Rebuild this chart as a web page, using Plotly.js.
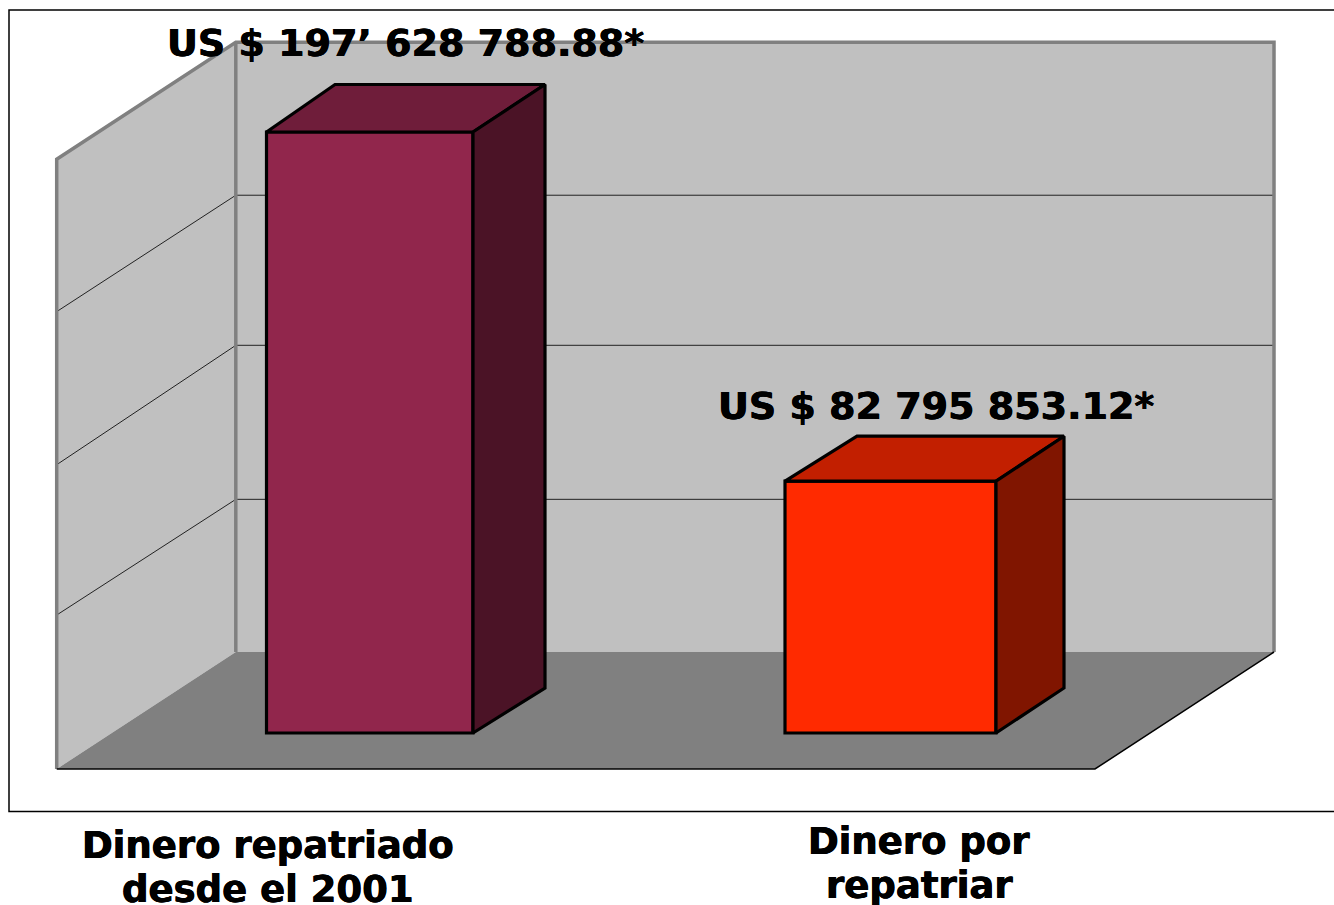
<!DOCTYPE html>
<html>
<head>
<meta charset="utf-8">
<script src="https://cdn.plot.ly/plotly-3.0.1.min.js"></script>
<style>html,body{margin:0;padding:0;background:#fff}#chart{width:1334px;height:905px}</style>
</head>
<body>
<div id="chart"></div>
<script>
// ---- data ----
const categoryLines = [["Dinero repatriado", "desde el 2001"], ["Dinero por", "repatriar"]];
const values = [197628788.88, 82795853.12];
const valueLabels = ["US $ 197’ 628 788.88*", "US $ 82 795 853.12*"];
const axisTicks = [50200000, 100850000, 150200000];
const axisMax = 200500000;

// ---- colours ----
const frontColors = ["#91264c", "#ff2a00"];
const topColors = ["#6f1d3a", "#c21f00"];
const sideColors = ["#4b1326", "#801500"];

// ---- geometry of the oblique projection (pixels) ----
const W = 1334, H = 905, baseline = 733, k = 601 / values[0];
const toVal = p => (baseline - p) / k;          // pixel row -> axis value
const barCenters = [369.75, 890.5], barWidths = [206.5, 211];
const depthX = [72, 68], backLeftX = [68.5, 72];
const topRise = [47.5, 45], baseRise = [45, 45];
const wall = {x0: 56.7, x1: 235.8, x2: 1274, x3: 1095, front: 769, back: 652};
const wallDY = wall.front - wall.back;
const gridDrop = [115.7, 119.4, 116.4];
const edge = 3.2;

const traces = [{
  type: "bar", x: barCenters, y: values, width: barWidths,
  marker: {color: frontColors, line: {color: "#000", width: edge}},
  hoverinfo: "skip", showlegend: false
}];
values.forEach((v, i) => {
  const l = barCenters[i] - barWidths[i] / 2, r = barCenters[i] + barWidths[i] / 2;
  const dx = depthX[i], dt = topRise[i] / k, db = baseRise[i] / k;
  traces.push({
    type: "scatter", mode: "lines", fill: "toself", fillcolor: topColors[i],
    x: [l, l + backLeftX[i], r + dx, r, l], y: [v, v + dt, v + dt, v, v],
    line: {color: "#000", width: edge}, hoverinfo: "skip", showlegend: false
  });
  traces.push({
    type: "scatter", mode: "lines", fill: "toself", fillcolor: sideColors[i],
    x: [r, r + dx, r + dx, r, r], y: [0, db, v + dt, v, 0],
    line: {color: "#000", width: edge}, hoverinfo: "skip", showlegend: false
  });
});

const poly = pts => "M" + pts.map(p => p[0] + "," + toVal(p[1])).join("L");
const backRow = v => wall.back - v * k;
const topBack = backRow(axisMax), topFront = topBack + wallDY;
const shapes = [
  // left wall, back wall, floor
  {type: "path", path: poly([[wall.x0, wall.front], [wall.x1, wall.back], [wall.x1, topBack], [wall.x0, topFront]]) + "Z", fillcolor: "#c0c0c0", line: {width: 0}, layer: "below"},
  {type: "path", path: poly([[wall.x1, wall.back], [wall.x2, wall.back], [wall.x2, topBack], [wall.x1, topBack]]) + "Z", fillcolor: "#c0c0c0", line: {width: 0}, layer: "below"},
  {type: "path", path: poly([[wall.x0, wall.front], [wall.x1, wall.back], [wall.x2, wall.back], [wall.x3, wall.front]]) + "Z", fillcolor: "#808080", line: {width: 0}, layer: "below"}
];
axisTicks.forEach((t, i) => {
  const r = backRow(t);
  shapes.push({type: "path", path: poly([[wall.x0, r + gridDrop[i]], [wall.x1, r], [wall.x2, r]]), line: {color: "#222", width: 1}, layer: "below"});
});
shapes.push(
  {type: "path", path: poly([[wall.x0, wall.front], [wall.x0, topFront], [wall.x1, topBack], [wall.x2, topBack], [wall.x2, wall.back]]), line: {color: "#808080", width: 3.5}, layer: "below"},
  {type: "path", path: poly([[wall.x1, topBack], [wall.x1, wall.back]]), line: {color: "#808080", width: 3.5}, layer: "below"},
  {type: "path", path: poly([[wall.x0, wall.front], [wall.x3, wall.front], [wall.x2, wall.back]]), line: {color: "#000", width: 1.5}, layer: "below"},
  {type: "path", path: poly([[W, 10], [9, 10], [9, 811.5], [W, 811.5]]), line: {color: "#000", width: 1.5}, layer: "below"}
);

const heavy = "0.4px 0 0 #000, -0.4px 0 0 #000";
const ann = (text, x, row, size) => ({text: "<b>" + text + "</b>", x: x, y: toVal(row), xref: "x", yref: "y",
  xanchor: "center", yanchor: "middle", showarrow: false,
  font: {family: "DejaVu Sans, Verdana, sans-serif", size: size, color: "#000", shadow: heavy}});
const annotations = [
  ann(valueLabels[0], 405.5, 43, 38), ann(valueLabels[1], 935.5, 406, 38),
  ann(categoryLines[0][0], 268, 845, 37), ann(categoryLines[0][1], 268, 889, 37),
  ann(categoryLines[1][0], 919, 841, 37), ann(categoryLines[1][1], 919, 885, 37)
];

Plotly.newPlot("chart", traces, {
  width: W, height: H, margin: {l: 0, r: 0, t: 0, b: 0},
  paper_bgcolor: "#fff", plot_bgcolor: "#fff", showlegend: false, bargap: 0,
  xaxis: {range: [0, W], visible: false, fixedrange: true},
  yaxis: {range: [toVal(H), toVal(0)], visible: false, fixedrange: true},
  shapes: shapes, annotations: annotations
}, {displayModeBar: false, staticPlot: true});
</script>
</body>
</html>
